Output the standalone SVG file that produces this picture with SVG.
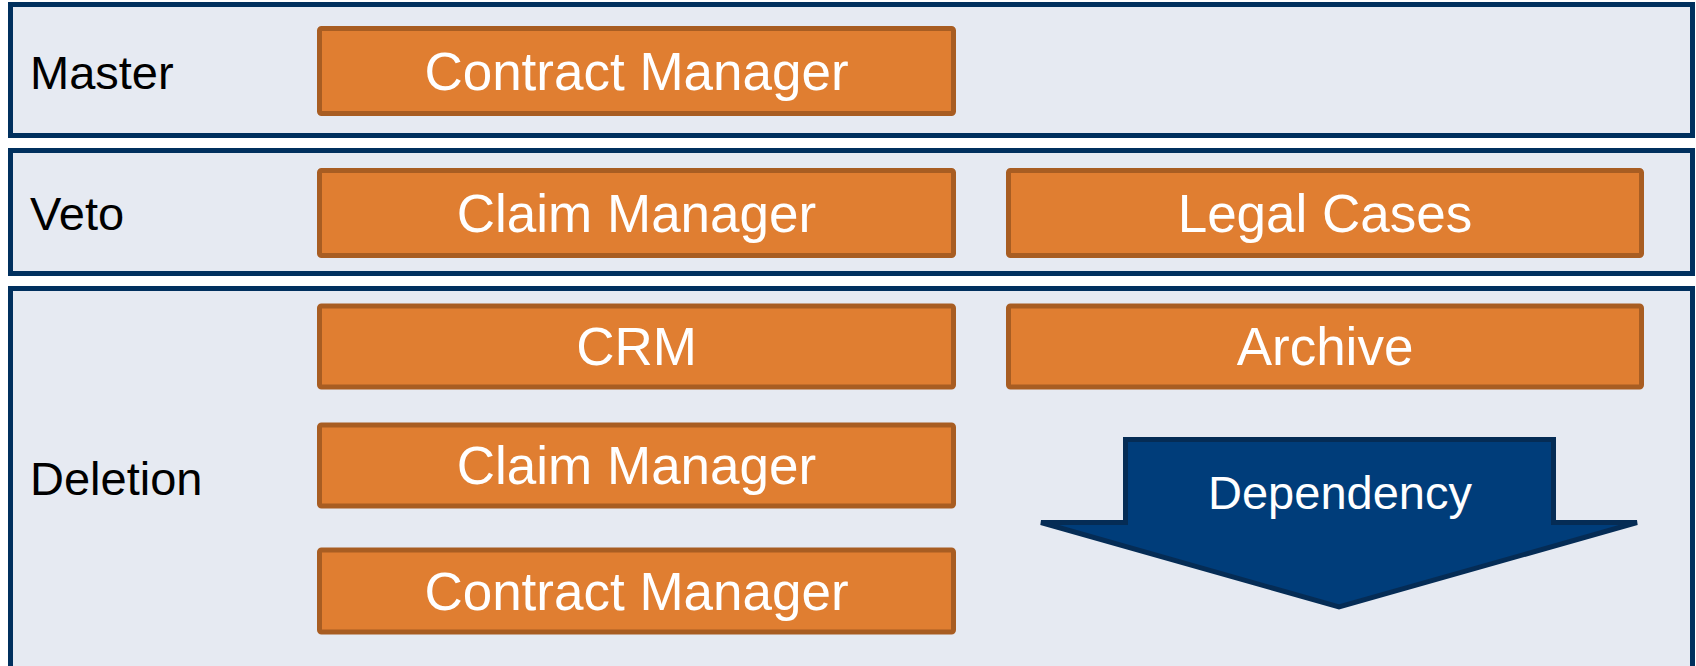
<svg xmlns="http://www.w3.org/2000/svg" width="1696" height="666" viewBox="0 0 1696 666">
<style>
.band{fill:#E6EAF2;stroke:#00305E;stroke-width:5}
.box{fill:#E07E31;stroke:#A85D22;stroke-width:5}
.lbl{font-family:"Liberation Sans",Arial,sans-serif;font-size:47px;fill:#000}
.bt{font-family:"Liberation Sans",Arial,sans-serif;font-size:53px;fill:#fff;text-anchor:middle}
.dt{font-family:"Liberation Sans",Arial,sans-serif;font-size:47px;fill:#fff;text-anchor:middle}
</style>
<rect width="1696" height="666" fill="#fff"/>
<g id="band-master"><rect class="band" x="10.5" y="4.5" width="1682" height="131"/><text class="lbl" x="30" y="89">Master</text></g>
<g id="band-veto"><rect class="band" x="10.5" y="150.5" width="1682" height="123"/><text class="lbl" x="30" y="230">Veto</text></g>
<g id="band-deletion"><rect class="band" x="10.5" y="288.5" width="1682" height="390"/><text class="lbl" x="30" y="495">Deletion</text></g>
<g id="master-contract"><rect class="box" x="319.5" y="28.5" width="634" height="85" rx="2"/><text class="bt" x="636.5" y="90">Contract Manager</text></g>
<g id="veto-claim"><rect class="box" x="319.5" y="170.5" width="634" height="85" rx="2"/><text class="bt" x="636.5" y="232">Claim Manager</text></g>
<g id="veto-legal"><rect class="box" x="1008.5" y="170.5" width="633" height="85" rx="2"/><text class="bt" x="1325" y="232">Legal Cases</text></g>
<g id="del-crm"><rect class="box" x="319.5" y="306" width="634" height="81" rx="2"/><text class="bt" x="636.5" y="365">CRM</text></g>
<g id="del-archive"><rect class="box" x="1008.5" y="306" width="633" height="81" rx="2"/><text class="bt" x="1325" y="365">Archive</text></g>
<g id="del-claim"><rect class="box" x="319.5" y="425" width="634" height="81" rx="2"/><text class="bt" x="636.5" y="484">Claim Manager</text></g>
<g id="del-contract"><rect class="box" x="319.5" y="550" width="634" height="82" rx="2"/><text class="bt" x="636.5" y="610">Contract Manager</text></g>
<g id="dependency"><path d="M1125.5,439.5 L1553.5,439.5 L1553.5,522.5 L1637,522.5 L1339,607 L1041,522.5 L1125.5,522.5 Z" fill="#003D7A" stroke="#052C55" stroke-width="5"/><text class="dt" x="1340" y="509">Dependency</text></g>
<g id="connectors"></g>
</svg>
